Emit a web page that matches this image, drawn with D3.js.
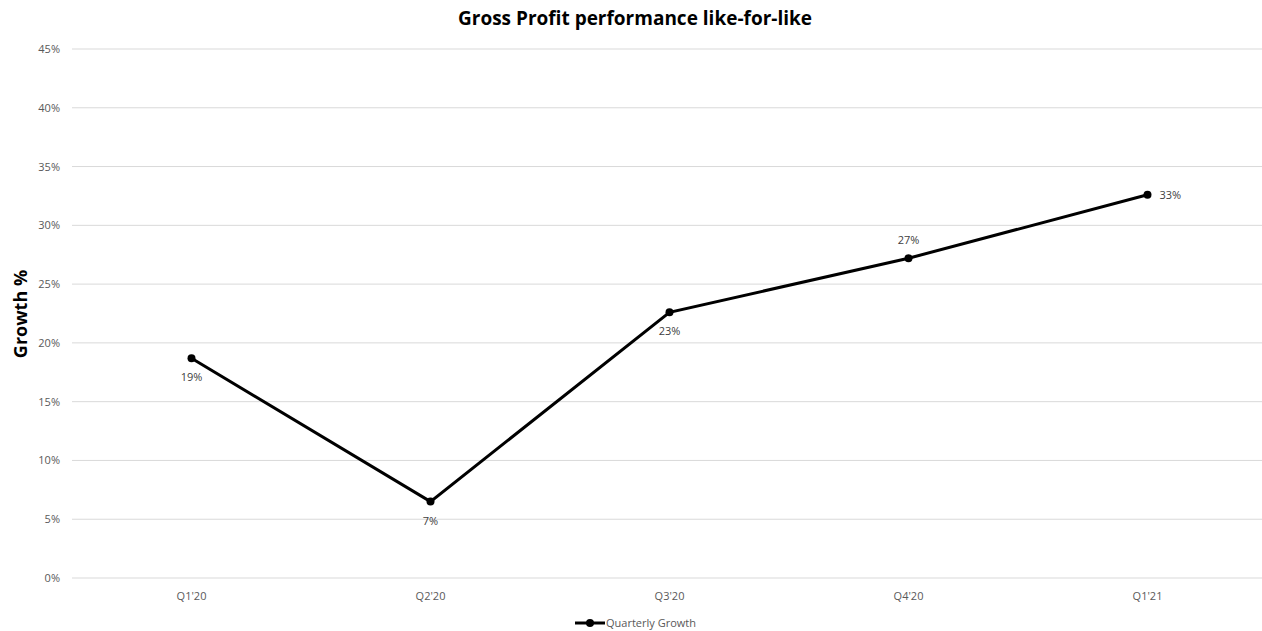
<!DOCTYPE html>
<html>
<head>
<meta charset="utf-8">
<script src="https://cdn.jsdelivr.net/npm/d3@7"></script>
<style>
  body { margin: 0; background: #fff; }
  text { font-family: "Open Sans", "Noto Sans", sans-serif; }
</style>
</head>
<body>
<div id="container"></div>
<script>
// chart data
var quarters = ["Q1'20", "Q2'20", "Q3'20", "Q4'20", "Q1'21"];
var growth = [18.7, 6.5, 22.6, 27.2, 32.6];
var labels = ["19%", "7%", "23%", "27%", "33%"];
var labelPos = ["below", "below", "below", "above", "right"];
var yTicks = [0, 5, 10, 15, 20, 25, 30, 35, 40, 45];

var width = 1262, height = 631;
var svg = d3.select("#container").append("svg")
  .attr("width", width).attr("height", height);

var x = d3.scalePoint().domain(quarters).range([72, 1267]).padding(0.5);
var y = d3.scaleLinear().domain([0, 45]).range([578, 49]);

// gridlines
svg.append("g").selectAll("line").data(yTicks).enter().append("line")
  .attr("x1", 72).attr("x2", 1262)
  .attr("y1", function(d){ return y(d); }).attr("y2", function(d){ return y(d); })
  .attr("stroke", "#d9d9d9").attr("stroke-width", 1);

// y tick labels
svg.append("g").selectAll("text").data(yTicks).enter().append("text")
  .attr("x", 60).attr("y", function(d){ return y(d) + 4; })
  .attr("text-anchor", "end").attr("font-size", 11).attr("fill", "#595959")
  .text(function(d){ return d + "%"; });

// x tick labels
svg.append("g").selectAll("text").data(quarters).enter().append("text")
  .attr("x", function(d){ return x(d); }).attr("y", 600)
  .attr("text-anchor", "middle").attr("font-size", 11).attr("fill", "#595959")
  .text(function(d){ return d; });

// title
svg.append("text").attr("x", 635).attr("y", 25).attr("text-anchor", "middle")
  .attr("font-size", 19).attr("font-weight", "bold").attr("fill", "#000")
  .text("Gross Profit performance like-for-like");

// y axis title
svg.append("text").attr("transform", "translate(27,314) rotate(-90)")
  .attr("text-anchor", "middle").attr("font-size", 18).attr("font-weight", "bold")
  .text("Growth %");

var pts = quarters.map(function(q, i){ return {q: q, v: growth[i], l: labels[i], p: labelPos[i]}; });

svg.append("path").datum(pts)
  .attr("fill", "none").attr("stroke", "#000").attr("stroke-width", 3)
  .attr("d", d3.line().x(function(d){ return x(d.q); }).y(function(d){ return y(d.v); }));

svg.append("g").selectAll("circle").data(pts).enter().append("circle")
  .attr("cx", function(d){ return x(d.q); }).attr("cy", function(d){ return y(d.v); })
  .attr("r", 4).attr("fill", "#000");

svg.append("g").selectAll("text").data(pts).enter().append("text")
  .attr("x", function(d){ return d.p == "right" ? x(d.q) + 12 : x(d.q); })
  .attr("y", function(d){
    if(d.p == "below") return y(d.v) + 23;
    if(d.p == "above") return y(d.v) - 14;
    return y(d.v) + 4;
  })
  .attr("text-anchor", function(d){ return d.p == "right" ? "start" : "middle"; })
  .attr("font-size", 11).attr("fill", "#404040")
  .text(function(d){ return d.l; });

// legend
var lg = svg.append("g");
lg.append("line").attr("x1", 575).attr("x2", 605).attr("y1", 623).attr("y2", 623)
  .attr("stroke", "#000").attr("stroke-width", 3);
lg.append("circle").attr("cx", 590).attr("cy", 623).attr("r", 4).attr("fill", "#000");
lg.append("text").attr("x", 606).attr("y", 627).attr("font-size", 11).attr("fill", "#595959")
  .text("Quarterly Growth");
</script>
</body>
</html>
